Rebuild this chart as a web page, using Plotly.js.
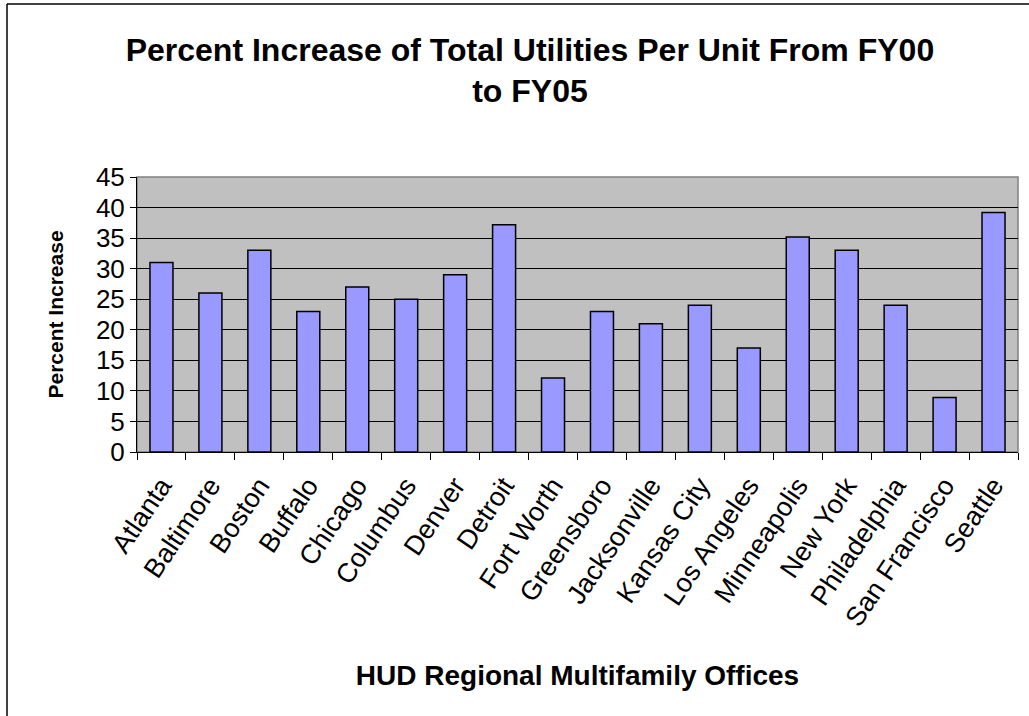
<!DOCTYPE html>
<html>
<head>
<meta charset="utf-8">
<script src="https://cdn.plot.ly/plotly-3.0.1.min.js"></script>
<style>
  html, body { margin: 0; padding: 0; background: #fff; }
  #chart { width: 1029px; height: 716px; }
</style>
</head>
<body>
<div id="chart"></div>
<script>
const offices = [
  "Atlanta", "Baltimore", "Boston", "Buffalo", "Chicago", "Columbus",
  "Denver", "Detroit", "Fort Worth", "Greensboro", "Jacksonville",
  "Kansas City", "Los Angeles", "Minneapolis", "New York", "Philadelphia",
  "San Francisco", "Seattle",
];
const percentIncrease = [
  31, 26, 33, 23, 27, 25,
  29, 37.2, 12.1, 23, 21,
  24, 17, 35.2, 33, 24,
  8.9, 39.2,
];
const yTicks = [0, 5, 10, 15, 20, 25, 30, 35, 40, 45];

const FONT = "Liberation Sans, Arial, sans-serif";

const barTrace = {
  type: "bar",
  x: offices,
  y: percentIncrease,
  marker: {
    color: "#9999FF",
    line: { color: "#000000", width: 1.5 },
  },
  hoverinfo: "x+y",
  showlegend: false,
};

const layout = {
  width: 1029,
  height: 716,
  paper_bgcolor: "#ffffff",
  plot_bgcolor: "#C0C0C0",
  margin: { l: 137, r: 11, t: 177, b: 264 },
  bargap: 0.53,
  title: {
    text: "Percent Increase of Total Utilities Per Unit From FY00<br>to FY05",
    font: { family: FONT, size: 32, color: "#000000", weight: "bold" },
    x: 0.515,
    xanchor: "center",
    y: 0.915,
    yanchor: "top",
  },
  xaxis: {
    type: "category",
    tickangle: -56,
    tickson: "boundaries",
    ticks: "outside",
    ticklen: 7,
    tickcolor: "#000000",
    ticklabelstandoff: 6,
    showline: true,
    linecolor: "#000000",
    linewidth: 1,
    showgrid: false,
    tickfont: { family: FONT, size: 27, color: "#000000" },
    title: {
      text: "HUD Regional Multifamily Offices",
      font: { family: FONT, size: 28, color: "#000000", weight: "bold" },
      standoff: 34,
    },
    automargin: false,
  },
  yaxis: {
    range: [0, 45],
    tickvals: yTicks,
    ticks: "outside",
    ticklen: 6,
    tickcolor: "#000000",
    showline: true,
    linecolor: "#000000",
    linewidth: 1,
    showgrid: true,
    gridcolor: "#000000",
    gridwidth: 1,
    zeroline: false,
    tickfont: { family: FONT, size: 26, color: "#000000" },
    title: {
      text: "Percent Increase",
      font: { family: FONT, size: 21, color: "#000000", weight: "bold" },
      standoff: 26,
    },
    automargin: false,
  },
  shapes: [
    {
      type: "rect",
      xref: "paper",
      yref: "paper",
      x0: 0,
      x1: 1,
      y0: 0,
      y1: 1,
      line: { color: "#808080", width: 1.5 },
      layer: "below",
    },
    {
      type: "line",
      xref: "paper",
      yref: "paper",
      x0: -130 / 881,
      x1: -130 / 881,
      y0: 1 + 173 / 275,
      y1: -264 / 275,
      line: { color: "#000000", width: 1.5 },
    },
    {
      type: "line",
      xref: "paper",
      yref: "paper",
      x0: -130 / 881,
      x1: 1 + 11 / 881,
      y0: 1 + 173 / 275,
      y1: 1 + 173 / 275,
      line: { color: "#000000", width: 1.5 },
    },
  ],
};

Plotly.newPlot("chart", [barTrace], layout, { displayModeBar: false, staticPlot: true });
</script>
</body>
</html>
